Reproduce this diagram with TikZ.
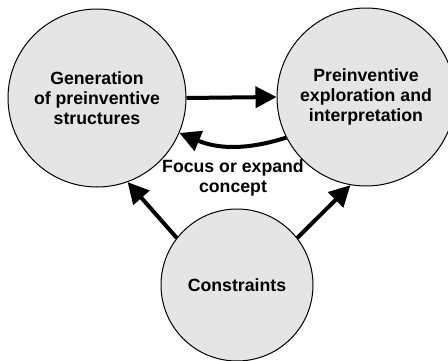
\documentclass[tikz,border=0pt]{standalone}
\usepackage{fontspec}
\setmainfont{Liberation Sans}
\usepackage{tikz}
\usetikzlibrary{arrows.meta}
\tikzset{%
  stage/.style = {shape=circle, draw, line width=1pt,%
                  fill=black!10, align=center, inner sep=0pt,%
                  minimum size=178pt, font=\bfseries\fontsize{17.7}{20}\selectfont},%
  link/.style  = {line width=4pt, -{Triangle[length=21pt,width=21pt]}}%
}

\begin{document}
\begin{tikzpicture}[x=1pt,y=1pt]
	\useasboundingbox (0,0) rectangle (448,360);
	\node [stage] (gen) at (97,262) {Generation\\of preinventive\\structures};
	\node [stage] (expl) at (366,263) {Preinventive\\exploration and\\interpretation};
	\node [stage, minimum size=152pt] (cons) at (237,75) {Constraints};
	% forward and feedback between the two stages
	\draw [link] (gen.0) -- (expl.180);
	\draw [link] (expl.207) to[bend left=20] (gen.-23);
	\node [font=\bfseries\fontsize{17.7}{20}\selectfont, align=center] (focus) at (233,182)
		{Focus or expand\\concept};
	% constraints act on both stages
	\draw [link] (cons.142) -- (gen.-70);
	\draw [link] (cons.38) -- (expl.-100);
\end{tikzpicture}
\end{document}
